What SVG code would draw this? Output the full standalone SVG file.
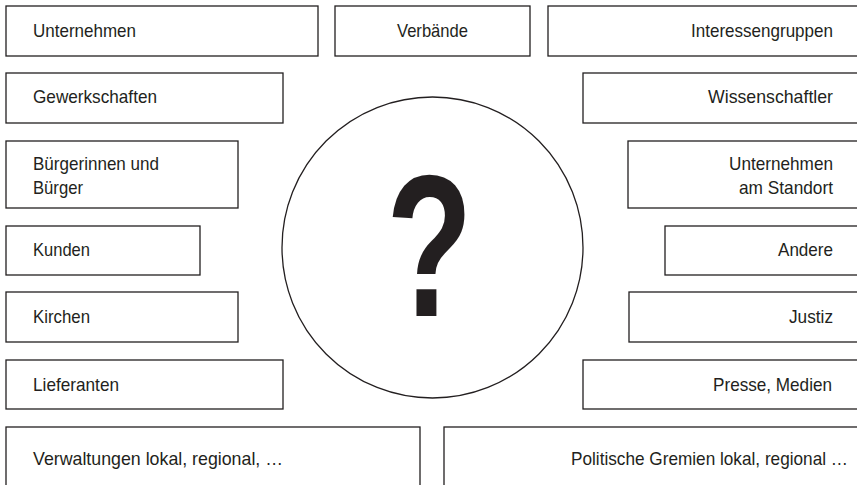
<svg xmlns="http://www.w3.org/2000/svg" width="857" height="485" viewBox="0 0 857 485">
<style>
rect{fill:#fff;stroke:#231f20;stroke-width:1.3}
text{font-family:"Liberation Sans",Arial,sans-serif;font-size:18.5px;fill:#231f20}
.r{text-anchor:end}
.c{text-anchor:middle}
</style>
<rect x="0" y="0" width="857" height="485" style="stroke:none"/>
<g id="circle">
<circle cx="432.5" cy="247.5" r="150.5" fill="#fff" stroke="#231f20" stroke-width="1.3"/>
<text transform="translate(429.5,316) scale(0.7,1)" class="c" style="font-size:202px;font-weight:bold">?</text>
</g>
<g id="n-unternehmen"><rect x="6" y="6" width="312" height="50"/><text x="33" y="37" textLength="103" lengthAdjust="spacingAndGlyphs">Unternehmen</text></g>
<g id="n-verbaende"><rect x="335" y="6" width="195" height="50"/><text x="432.5" y="37" class="c" textLength="71" lengthAdjust="spacingAndGlyphs">Verbände</text></g>
<g id="n-interessengruppen"><rect x="548" y="6" width="320" height="50"/><text x="833" y="37" class="r" textLength="142" lengthAdjust="spacingAndGlyphs">Interessengruppen</text></g>
<g id="n-gewerkschaften"><rect x="6" y="73" width="277" height="50"/><text x="33" y="103" textLength="124" lengthAdjust="spacingAndGlyphs">Gewerkschaften</text></g>
<g id="n-wissenschaftler"><rect x="583" y="73" width="285" height="50"/><text x="833" y="103" class="r" textLength="125" lengthAdjust="spacingAndGlyphs">Wissenschaftler</text></g>
<g id="n-buerger"><rect x="6" y="141" width="232" height="67"/><text x="33" y="169.5" textLength="126" lengthAdjust="spacingAndGlyphs">Bürgerinnen und</text><text x="33" y="193.5" textLength="50" lengthAdjust="spacingAndGlyphs">Bürger</text></g>
<g id="n-unternehmen-standort"><rect x="628" y="141" width="240" height="67"/><text x="833" y="169.5" class="r" textLength="104" lengthAdjust="spacingAndGlyphs">Unternehmen</text><text x="833" y="193.5" class="r" textLength="94" lengthAdjust="spacingAndGlyphs">am Standort</text></g>
<g id="n-kunden"><rect x="6" y="226" width="194" height="49"/><text x="33" y="256" textLength="57" lengthAdjust="spacingAndGlyphs">Kunden</text></g>
<g id="n-andere"><rect x="665" y="226" width="203" height="49"/><text x="833" y="256" class="r" textLength="55" lengthAdjust="spacingAndGlyphs">Andere</text></g>
<g id="n-kirchen"><rect x="6" y="292" width="232" height="50"/><text x="33" y="323" textLength="57" lengthAdjust="spacingAndGlyphs">Kirchen</text></g>
<g id="n-justiz"><rect x="629" y="292" width="239" height="50"/><text x="833" y="323" class="r" textLength="44" lengthAdjust="spacingAndGlyphs">Justiz</text></g>
<g id="n-lieferanten"><rect x="6" y="360" width="277" height="49"/><text x="33" y="391" textLength="86" lengthAdjust="spacingAndGlyphs">Lieferanten</text></g>
<g id="n-presse"><rect x="583" y="360" width="285" height="49"/><text x="832" y="391" class="r" textLength="119" lengthAdjust="spacingAndGlyphs">Presse, Medien</text></g>
<g id="n-verwaltungen"><rect x="6" y="427" width="414" height="62"/><text x="33" y="465" textLength="250" lengthAdjust="spacingAndGlyphs">Verwaltungen lokal, regional, …</text></g>
<g id="n-politische"><rect x="444" y="427" width="424" height="62"/><text x="848" y="465" class="r" textLength="277" lengthAdjust="spacingAndGlyphs">Politische Gremien lokal, regional …</text></g>
<g id="connectors"/>
</svg>
